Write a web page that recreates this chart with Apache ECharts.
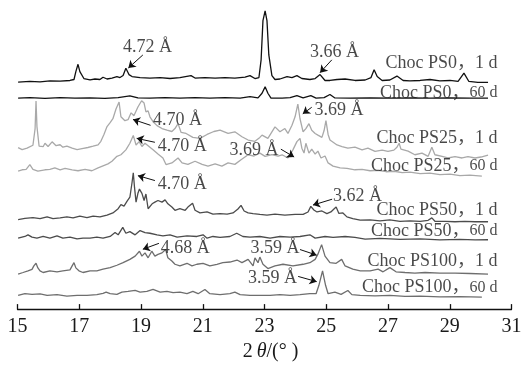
<!DOCTYPE html>
<html>
<head>
<meta charset="utf-8">
<script src="https://cdn.jsdelivr.net/npm/echarts@6/dist/echarts.min.js"></script>
<style>
html,body{margin:0;padding:0;background:#fff}
#chart{width:532px;height:367px}
</style>
</head>
<body>
<div id="chart"></div>
<script>
// x axis ticks, 2θ (°)
var ticks = [15, 17, 19, 21, 23, 25, 27, 29, 31];

var names = ['Choc PS0，1 d', 'Choc PS0，{s|60 d}', 'Choc PS25，1 d', 'Choc PS25，{s|60 d}',
             'Choc PS50，1 d', 'Choc PS50，{s|60 d}', 'Choc PS100，1 d', 'Choc PS100，{s|60 d}'];
var colors = ['#111', '#111', '#a9a9a9', '#a9a9a9', '#4c4c4c', '#4c4c4c', '#6e6e6e', '#6e6e6e'];
// vertical stacking of the patterns
var offsets = [231, 214, 154, 135, 89, 70, 35, 12];

// [2θ, intensity a.u.]
var ps0_1d = [[15.02,0.3],[15.40,1],[15.73,0.5],[16.05,1.5],[16.38,1.3],[16.70,2],[16.83,3],[16.89,11],[16.96,18.5],[17.02,11],[17.15,4],[17.35,2.5],[17.51,3.5],[17.67,3],[17.77,5.3],[17.90,3.5],[18.06,4.5],[18.22,6],[18.32,5],[18.42,7],[18.51,14.5],[18.61,8],[18.71,6],[18.97,5],[19.29,4.5],[19.62,5],[19.94,4],[20.26,5],[20.62,7],[20.75,4.5],[21.07,5],[21.40,4.5],[21.72,5],[22.04,4.5],[22.37,5.5],[22.53,7],[22.69,4],[22.82,5],[22.89,23],[22.95,63],[23.02,73],[23.08,63],[23.14,28],[23.24,7],[23.34,3],[23.50,3.5],[23.73,6],[23.89,5],[24.05,7],[24.21,4],[24.47,3],[24.64,4],[24.80,8],[24.96,2],[25.12,2],[25.35,3],[25.61,3.5],[25.93,2],[26.26,2.5],[26.45,5],[26.55,13],[26.65,6],[26.81,2],[27.06,2.5],[27.29,6.5],[27.49,2],[27.71,1.5],[28.04,2],[28.36,3],[28.68,1.5],[29.01,2],[29.27,1],[29.46,9.5],[29.62,1],[29.91,0],[30.24,0]];
var ps0_60d = [[15.02,1],[15.40,1.5],[15.89,0.7],[16.38,1.5],[16.86,1],[17.35,1.3],[17.83,0.8],[18.26,1.5],[18.64,3.2],[18.90,1.3],[19.29,1],[19.78,1.5],[20.26,1],[20.75,1.5],[21.23,1],[21.72,1.5],[22.21,1],[22.53,2.5],[22.79,1.2],[22.92,6],[23.02,12.5],[23.11,6],[23.21,1],[23.57,1],[23.83,1.5],[24.05,3.5],[24.25,1.2],[24.50,3.5],[24.67,1],[24.93,1.5],[25.12,4.7],[25.28,1.2],[25.77,1],[26.42,1.3],[27.06,1],[27.71,1.3],[28.36,1],[29.01,1.2],[29.65,1],[30.24,1]];
var ps25_1d = [[15.02,10.5],[15.15,8.5],[15.31,10],[15.50,13],[15.57,30],[15.60,58],[15.63,32],[15.70,12],[15.83,11.5],[15.89,15],[15.99,11.7],[16.12,16.5],[16.25,12.5],[16.38,13.5],[16.47,11],[16.60,12],[16.77,10],[16.93,8.5],[17.09,9.5],[17.28,10.7],[17.45,12],[17.61,13.3],[17.70,17],[17.80,24],[17.90,32],[18.00,36],[18.09,40],[18.19,50],[18.29,57],[18.35,42],[18.48,38],[18.58,39],[18.68,46],[18.77,43],[18.90,52],[19.02,58.3],[19.10,56],[19.16,47],[19.23,48],[19.29,42],[19.39,37],[19.52,33],[19.68,30],[19.84,28.3],[20.00,27],[20.10,30],[20.20,35],[20.30,26],[20.46,25],[20.68,21],[20.91,20],[21.14,24],[21.36,27],[21.56,28.3],[21.82,25],[22.04,26.7],[22.27,21.7],[22.47,18.3],[22.69,17],[22.85,21],[22.92,23.3],[23.11,20],[23.34,31.7],[23.50,26.7],[23.66,30],[23.76,25],[23.89,33.3],[23.99,42],[24.08,55],[24.15,40],[24.25,26.7],[24.34,30],[24.44,35],[24.53,28.3],[24.64,25],[24.73,23.3],[24.86,21],[24.93,28],[24.99,38],[25.06,24],[25.12,18.3],[25.35,13.3],[25.51,11.7],[25.70,10],[25.93,11],[26.16,8.3],[26.35,10],[26.58,6.7],[26.81,8],[27.00,6.7],[27.19,8],[27.29,11],[27.36,15],[27.42,9],[27.65,7],[27.87,3.3],[28.10,5],[28.30,1.7],[28.42,11],[28.52,3.3],[28.75,1.7],[28.94,0],[29.17,1.5],[29.40,0],[29.59,1.5],[29.82,0],[30.01,1],[30.24,3]];
var ps25_60d = [[15.02,5.7],[15.15,7],[15.28,7.5],[15.40,12.3],[15.50,7.5],[15.66,5.7],[15.89,7],[16.05,7.5],[16.21,9],[16.38,7],[16.54,8.5],[16.77,7],[16.96,6],[17.19,7.5],[17.41,6],[17.61,9],[17.77,11],[17.93,13],[18.06,15.7],[18.22,20.7],[18.35,22.3],[18.51,27.3],[18.64,34],[18.75,42],[18.84,32.3],[18.94,35.7],[19.03,30.7],[19.13,34],[19.26,30.7],[19.39,27.3],[19.55,23],[19.71,19],[19.81,12.3],[20.00,14],[20.20,19],[20.33,14],[20.52,12.5],[20.75,15.7],[20.98,12.5],[21.17,10.7],[21.40,13],[21.62,10.7],[21.82,14],[22.04,12.5],[22.24,17.3],[22.47,22.3],[22.66,21],[22.85,24],[23.02,20.7],[23.24,22.5],[23.44,21],[23.57,22.3],[23.76,19],[23.92,27.3],[24.05,35.7],[24.15,39],[24.21,29],[24.28,24],[24.34,34],[24.44,24],[24.53,28],[24.64,23],[24.73,26],[24.83,19],[24.96,21],[25.06,14],[25.22,10.7],[25.45,9],[25.67,8.5],[25.93,7],[26.16,7.3],[26.42,6],[26.68,6.5],[26.94,5],[27.19,5.5],[27.46,4],[27.71,4.5],[28.04,3],[28.36,3.5],[28.68,2],[29.01,2.5],[29.33,1],[29.65,1.5],[30.04,0.5]];
var ps50_1d = [[15.02,2.3],[15.24,3.5],[15.50,4.3],[15.73,3.3],[15.96,5],[16.15,3.3],[16.38,4],[16.60,5],[16.80,4],[17.02,5.7],[17.25,4.3],[17.45,5.7],[17.67,5],[17.90,6.7],[18.09,9],[18.26,13.3],[18.35,17.5],[18.45,16],[18.55,21],[18.64,25],[18.71,40],[18.75,50],[18.79,35],[18.84,20],[18.90,29],[18.95,33.3],[19.03,29],[19.10,21.7],[19.16,28.3],[19.23,13.3],[19.36,18.3],[19.45,20],[19.55,21.7],[19.68,20],[19.78,22.3],[19.87,18.3],[20.00,15],[20.10,11.7],[20.26,13.3],[20.43,11.7],[20.52,15],[20.67,19],[20.75,11.7],[20.91,9],[21.14,10],[21.33,7.7],[21.56,8.3],[21.79,7.7],[21.98,9],[22.14,13],[22.24,16.7],[22.34,11],[22.47,9],[22.63,8.3],[22.85,7.5],[23.08,6.7],[23.34,7.7],[23.66,6.7],[23.99,7.5],[24.25,7.5],[24.41,10],[24.50,15.7],[24.60,12],[24.70,10],[24.86,11],[25.02,8.3],[25.15,10],[25.25,13],[25.32,15],[25.41,8.5],[25.54,9],[25.67,5],[25.86,3.3],[26.10,1.7],[26.42,2],[26.74,1],[27.06,2],[27.39,0.5],[27.71,1],[28.04,0.5],[28.30,1.5],[28.42,4],[28.52,0.5],[28.85,0.5],[29.17,0],[29.49,0.5],[29.82,0],[30.24,0]];
var ps50_60d = [[15.02,2.3],[15.24,4],[15.34,5.7],[15.47,3.3],[15.63,2.3],[15.83,4],[16.05,2.3],[16.28,4.7],[16.47,2.3],[16.70,3.3],[16.93,1.5],[17.12,2.3],[17.35,2.3],[17.57,3.3],[17.77,2.3],[18.00,4],[18.16,8],[18.26,5.7],[18.41,13.3],[18.51,7.3],[18.64,9],[18.81,5.7],[18.97,10],[19.13,8],[19.29,7.3],[19.52,5.7],[19.71,4.7],[19.94,5.7],[20.17,3.3],[20.49,4.7],[20.81,4],[21.01,5.7],[21.14,2.3],[21.33,4],[21.56,3],[21.88,4],[22.10,7.3],[22.30,4],[22.53,3.3],[22.85,4],[23.18,2.3],[23.50,4],[23.83,3.3],[24.15,4],[24.47,5.7],[24.64,2.3],[24.96,4],[25.22,3],[25.61,4],[25.93,3],[26.26,1.3],[26.74,2],[27.39,1],[28.04,1.5],[28.68,0.5],[29.33,1],[29.82,0.5],[30.24,0.7]];
var ps100_1d = [[15.02,0.7],[15.18,2.3],[15.34,4],[15.47,5.5],[15.53,9],[15.60,11.7],[15.66,7],[15.73,4],[15.83,2.3],[16.05,4],[16.28,3],[16.47,4],[16.70,5],[16.77,9],[16.83,12.3],[16.89,7],[16.99,4],[17.12,2.3],[17.35,4],[17.57,4],[17.77,5.7],[18.00,7.3],[18.22,9.7],[18.42,12.3],[18.64,15.7],[18.81,19],[18.95,24],[19.03,19],[19.13,22.3],[19.23,17.3],[19.35,24],[19.45,19],[19.55,20.7],[19.68,22.3],[19.80,25.7],[19.87,17.3],[20.00,14],[20.10,10.7],[20.26,9],[20.49,11.7],[20.65,9],[20.81,10.7],[21.01,11.7],[21.23,9],[21.46,10.7],[21.65,12.3],[21.88,13],[22.11,15],[22.27,12.3],[22.47,15.7],[22.63,9],[22.69,17.3],[22.79,12.3],[22.85,18],[22.95,10.7],[23.11,6.3],[23.34,9],[23.60,10.7],[23.92,9],[24.25,10.7],[24.47,12.3],[24.64,15.7],[24.73,21],[24.85,30.7],[24.96,19],[25.12,12.3],[25.32,11.7],[25.50,15.7],[25.61,9],[25.86,5.7],[26.10,4],[26.42,4],[26.68,5.7],[26.84,3],[27.06,7.3],[27.26,3],[27.55,2.3],[27.87,1.7],[28.20,2.3],[28.68,1.7],[29.17,1.7],[29.65,1.3],[30.24,0.7]];
var ps100_60d = [[15.02,2],[15.24,3.7],[15.47,3],[15.73,3.5],[15.96,2],[16.28,2.7],[16.60,1.3],[16.93,2],[17.25,2],[17.57,2.7],[17.77,4],[17.87,5.3],[18.00,3.7],[18.22,3],[18.38,5.3],[18.58,6],[18.81,7],[18.97,5.3],[19.19,6],[19.39,8],[19.62,5.3],[19.84,6],[20.04,4.7],[20.26,5.3],[20.49,3.7],[20.68,6],[20.85,3.7],[21.07,8],[21.23,3.7],[21.56,2.7],[21.88,3.7],[22.04,5.3],[22.21,2.7],[22.53,2],[22.85,2],[23.18,2],[23.50,2.7],[23.83,2],[24.15,2.7],[24.47,3.7],[24.67,3.7],[24.76,12],[24.88,27],[24.98,12],[25.06,3.7],[25.28,5.3],[25.48,3],[25.70,7],[25.83,2.7],[26.10,2],[26.58,1.5],[27.06,2],[27.55,1],[28.04,1.3],[28.68,0.5],[29.33,0.7],[30.04,0.3]];
var patterns = [ps0_1d, ps0_60d, ps25_1d, ps25_60d, ps50_1d, ps50_60d, ps100_1d, ps100_60d];

// sample names, placed at right end [2θ, a.u.]
var namePos = [[30.56,250.5],[30.56,220],[30.56,174],[30.56,146],[30.56,100.5],[30.56,79.5],[30.56,48.5],[30.56,22]];

// d-spacing notes
var notes = ['4.72 Å', '3.66 Å', '4.70 Å', '4.70 Å', '3.69 Å', '3.69 Å', '4.70 Å', '3.62 Å', '4.68 Å', '3.59 Å', '3.59 Å'];
var notePos = [[19.21,267],[25.27,262],[20.18,192],[20.34,166],[25.41,202.3],[22.66,162],[20.34,127],[26.01,115],[20.43,62],[23.34,62.3],[23.26,31.3]];
var arrowFrom = [[19.06,259],[25.18,254],[19.31,187.3],[19.45,170],[24.53,205.7],[23.53,163],[19.45,131],[25.19,112],[19.58,67],[24.15,60.7],[24.09,33.3]];
var arrowTo = [[18.59,245.7],[24.80,241],[18.74,193.3],[18.86,174],[24.24,199],[23.96,155],[18.90,136],[24.57,106],[19.06,61],[24.69,55],[24.69,28]];

var serif = "'Liberation Serif', 'Times New Roman', 'Noto Sans CJK SC', serif";

var chart = echarts.init(document.getElementById('chart'));

var series = patterns.map(function (p, i) {
  return {
    name: names[i],
    type: 'line',
    showSymbol: false,
    lineStyle: { color: colors[i], width: 1.3 },
    data: p.map(function (d) { return [d[0], d[1] + offsets[i]]; }),
    z: 2
  };
});

series.push({
  type: 'scatter',
  symbolSize: 1,
  itemStyle: { color: 'rgba(0,0,0,0)' },
  label: {
    show: true, position: 'left', distance: 0,
    fontFamily: serif, fontSize: 18, color: '#1a1a1a',
    formatter: function (p) { return names[p.dataIndex]; },
    rich: { s: { fontFamily: serif, fontSize: 16, color: '#1a1a1a' } }
  },
  data: namePos,
  z: 5
});

series.push({
  type: 'scatter',
  symbolSize: 1,
  itemStyle: { color: 'rgba(0,0,0,0)' },
  label: {
    show: true, position: 'inside',
    fontFamily: serif, fontSize: 18, color: '#1a1a1a',
    formatter: function (p) { return notes[p.dataIndex]; }
  },
  data: notePos,
  markLine: {
    silent: true,
    symbol: ['none', 'arrow'],
    symbolSize: 7,
    label: { show: false },
    lineStyle: { color: '#111', width: 1, type: 'solid' },
    data: arrowFrom.map(function (a, i) {
      return [{ coord: a }, { coord: arrowTo[i] }];
    })
  },
  z: 5
});

chart.setOption({
  animation: false,
  backgroundColor: '#fff',
  grid: { left: 17.5, right: 20.5, top: 1, bottom: 52 },
  xAxis: {
    type: 'value',
    min: ticks[0],
    max: ticks[ticks.length - 1],
    interval: 2,
    name: '2\u2009{i|θ}/(° )',
    nameLocation: 'middle',
    nameGap: 22,
    nameTextStyle: {
      fontFamily: serif, fontSize: 20, color: '#1a1a1a', padding: [0, 0, 0, 12],
      rich: { i: { fontFamily: serif, fontSize: 20, fontStyle: 'italic', color: '#1a1a1a' } }
    },
    axisLine: { lineStyle: { color: '#111', width: 1.3 } },
    axisTick: { inside: true, length: 5, lineStyle: { color: '#111', width: 1.3 } },
    axisLabel: { fontFamily: serif, fontSize: 20, color: '#1a1a1a', margin: 8 },
    splitLine: { show: false }
  },
  yAxis: { type: 'value', min: 0, max: 314, show: false },
  series: series
});
</script>
</body>
</html>
